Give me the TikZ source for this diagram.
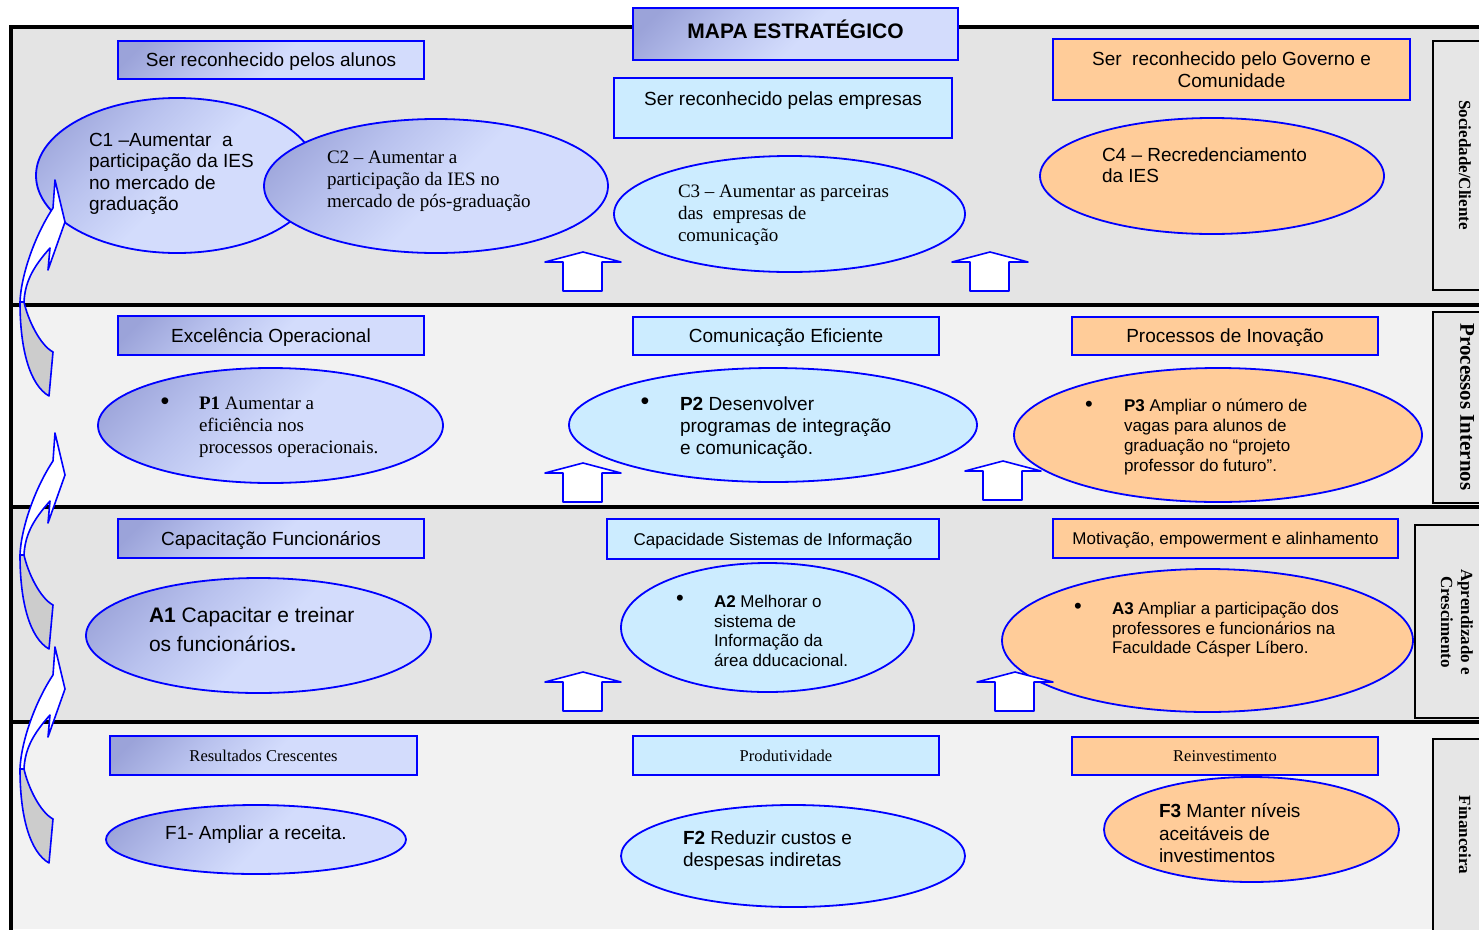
\documentclass[tikz,border=0pt]{standalone}
\usepackage{fontspec}
\setmainfont{Liberation Sans}
\newfontfamily\tnr{Liberation Serif}
\usetikzlibrary{shapes.geometric}

\definecolor{lavD}{HTML}{9BA3D9}
\definecolor{lavM}{HTML}{B9C2EE}
\definecolor{lavL}{HTML}{D3DCFC}
\definecolor{skyfill}{HTML}{CCECFF}
\definecolor{peach}{HTML}{FFCC99}
\definecolor{bandA}{HTML}{E4E4E4}
\definecolor{bandB}{HTML}{F2F2F2}
\definecolor{sidefill}{HTML}{E6E6E6}
\definecolor{edgeblue}{HTML}{0000FF}
\definecolor{foldgray}{HTML}{CCCCCC}

% diagonal lavender gradient, darkest towards the upper left
\pgfdeclareverticalshading{lavshade}{100bp}{color(0bp)=(lavL); color(48bp)=(lavL); color(64bp)=(lavM); color(80bp)=(lavD); color(100bp)=(lavD)}

\tikzset{
  every node/.style={inner sep=0pt, outer sep=0pt},
  lav/.style={shade, shading=lavshade, shading angle=45},
  sky/.style={fill=skyfill},
  pch/.style={fill=peach},
  tag/.style={rectangle, draw=edgeblue, line width=1.8pt},
  goal/.style={ellipse, draw=edgeblue, line width=1.8pt},
  sans19/.style={font=\fontsize{19}{21.5}\selectfont, text height=13.7pt, text depth=0pt},
  sans17/.style={font=\fontsize{17}{19.5}\selectfont, text height=12.2pt, text depth=0pt},
  serif16/.style={font=\tnr\fontsize{16.5}{19}\selectfont, text height=11.2pt, text depth=0pt},
  txt/.style={anchor=west, align=left},
  dot/.style={font=\fontsize{25}{25}\selectfont},
  sidebox/.style={draw=black, line width=1.8pt, fill=sidefill},
  sidetxt/.style={font=\tnr\bfseries\fontsize{17}{20}\selectfont, rotate=-90, align=center},
  band line/.style={line width=4pt, black},
  upblk/.pic={
    \filldraw[fill=white, draw=edgeblue, line width=1.6pt, line join=round]
      (0,0) -- (38,10) -- (19,10) -- (19,39) -- (-20,39) -- (-20,10) -- (-38,10) -- cycle;
  },
  curl/.pic={
    \filldraw[fill=foldgray, draw=edgeblue, line width=1.6pt, line join=round]
      (-35,122) .. controls (-35,170) and (-25,205) .. (-6,216) -- (-2,172)
      .. controls (-15,165) and (-27,140) .. (-31,122) -- cycle;
    \filldraw[fill=white, draw=edgeblue, line width=1.6pt, line join=round]
      (-35,122) .. controls (-34,95) and (-20,55) .. (-2,28) -- (0,0) -- (10,42)
      -- (-7,90) -- (-5,68) .. controls (-20,85) and (-30,100) .. (-31,122) -- cycle;
  }
}

\begin{document}
\begin{tikzpicture}[x=1pt, y=-1pt]
\useasboundingbox (0,0) rectangle (1479,929);
\begin{scope}
\clip (0,0) rectangle (1479,929);

% perspective bands
\fill[bandA] (11,27) rectangle (1479,305);
\fill[bandB] (11,305) rectangle (1479,507);
\fill[bandA] (11,507) rectangle (1479,722);
\fill[bandB] (11,722) rectangle (1479,929);
\draw[band line] (11,935) -- (11,27) -- (1485,27);
\draw[band line] (11,305) -- (1485,305);
\draw[band line] (11,507) -- (1485,507);
\draw[band line] (11,722) -- (1485,722);

% perspective names on the right
\draw[sidebox] (1433,41) rectangle (1500,290);
\draw[sidebox] (1433,312) rectangle (1500,503);
\draw[sidebox] (1415,525) rectangle (1500,718);
\draw[sidebox] (1433,739) rectangle (1500,940);
\node[sidetxt] (psoc) at (1465,165) {Sociedade/Cliente};
\node[sidetxt, font=\tnr\bfseries\fontsize{21}{24}\selectfont] (pint) at (1467,407) {Processos Internos};
\node[sidetxt] (papr) at (1457,622) {Aprendizado e\\Crescimento};
\node[sidetxt] (pfin) at (1465,835) {Financeira};

% theme labels
\node[tag, lav, sans19, minimum width=306, minimum height=38] (b1) at (271,60) {Ser reconhecido pelos alunos};
\node[tag, lav, sans19, minimum width=306, minimum height=39] (b2) at (271,335.5) {Excelência Operacional};
\node[tag, lav, sans19, minimum width=306, minimum height=39] (b3) at (271,538.5) {Capacitação Funcionários};
\node[tag, lav, serif16, minimum width=307, minimum height=39] (b4) at (263.5,755.5) {Resultados Crescentes};

\node[tag, sky, sans19, text depth=18pt, minimum width=338, minimum height=60] (m1) at (783,108) {Ser reconhecido pelas empresas};
\node[tag, sky, sans19, minimum width=306, minimum height=38] (m2) at (786,336) {Comunicação Eficiente};
\node[tag, sky, sans17, minimum width=332, minimum height=40] (m3) at (773,539) {Capacidade Sistemas de Informação};
\node[tag, sky, serif16, minimum width=306, minimum height=39] (m4) at (786,755.5) {Produtividade};

\node[tag, pch, font=\fontsize{19}{22}\selectfont, align=center, minimum width=357, minimum height=61] (r1) at (1231.5,69.5) {Ser~~reconhecido pelo Governo e\\Comunidade};
\node[tag, pch, sans19, minimum width=306, minimum height=38] (r2) at (1225,336) {Processos de Inovação};
\node[tag, pch, sans17, minimum width=345, minimum height=39] (r3) at (1225.5,538.5) {Motivação, empowerment e alinhamento};
\node[tag, pch, serif16, minimum width=306, minimum height=38] (r4) at (1225,756) {Reinvestimento};

% objectives
\node[goal, lav, minimum width=282, minimum height=155] (c1) at (177,175.5) {};
\node[goal, lav, minimum width=344, minimum height=134] (c2) at (436,186) {};
\node[goal, sky, minimum width=351, minimum height=116] (c3) at (789.5,214) {};
\node[goal, pch, minimum width=344, minimum height=116] (c4) at (1212,176) {};
\node[goal, lav, minimum width=345, minimum height=115] (p1) at (270.5,425.5) {};
\node[goal, sky, minimum width=408, minimum height=114] (p2) at (773,425) {};
\node[goal, pch, minimum width=408, minimum height=134] (p3) at (1218,435) {};
\node[goal, lav, minimum width=345, minimum height=115] (a1) at (258.5,635.5) {};
\node[goal, sky, minimum width=293, minimum height=129] (a2) at (767.5,627.5) {};
\node[goal, pch, minimum width=411, minimum height=143] (a3) at (1207.5,640.5) {};
\node[goal, lav, minimum width=300, minimum height=69] (f1) at (256,839.5) {};
\node[goal, sky, minimum width=344, minimum height=102] (f2) at (793,856) {};
\node[goal, pch, minimum width=295, minimum height=105] (f3) at (1251.5,829.5) {};

% objective texts
\node[txt, font=\fontsize{19}{21.4}\selectfont] (c1t) at (89,174) {C1 –Aumentar~~a\\participação da IES\\no mercado de\\graduação};
\node[txt, font=\tnr\fontsize{19}{22}\selectfont] (c2t) at (327,181) {C2 – Aumentar a\\participação da IES no\\mercado de pós-graduação};
\node[txt, font=\tnr\fontsize{19}{22}\selectfont] (c3t) at (678,215) {C3 – Aumentar as parceiras\\das~~empresas de\\comunicação};
\node[txt, font=\fontsize{19}{21}\selectfont] (c4t) at (1102,165.5) {C4 – Recredenciamento\\da IES};

\node[dot] (p1b) at (165,404) {•};
\node[txt, font=\tnr\fontsize{19}{22}\selectfont] (p1t) at (199,427) {\textbf{P1} Aumentar a\\eficiência nos\\processos operacionais.};
\node[dot] (p2b) at (645,404) {•};
\node[txt, font=\fontsize{19}{22.3}\selectfont] (p2t) at (680,427.5) {\textbf{P2} Desenvolver\\programas de integração\\e comunicação.};
\node[dot, font=\fontsize{22}{22}\selectfont] (p3b) at (1089,406) {•};
\node[txt, font=\fontsize{17}{19.7}\selectfont] (p3t) at (1124,437) {\textbf{P3} Ampliar o número de\\vagas para alunos de\\graduação no “projeto\\professor do futuro”.};

\node[txt, font=\fontsize{21}{28.4}\selectfont] (a1t) at (149,629.5) {\textbf{A1} Capacitar e treinar\\os funcionários\textbf{.}};
\node[dot, font=\fontsize{22}{22}\selectfont] (a2b) at (680,600) {•};
\node[txt, font=\fontsize{17}{19.4}\selectfont] (a2t) at (714,631) {\textbf{A2} Melhorar o\\sistema de\\Informação da\\área dducacional.};
\node[dot, font=\fontsize{22}{22}\selectfont] (a3b) at (1078,608) {•};
\node[txt, font=\fontsize{17}{19.5}\selectfont] (a3t) at (1112,630) {\textbf{A3} Ampliar a participação dos\\professores e funcionários na\\Faculdade Cásper Líbero.};

\node[sans19] (f1t) at (256,833) {F1- Ampliar a receita.};
\node[txt, font=\fontsize{19}{21.5}\selectfont] (f2t) at (683,850.5) {\textbf{F2} Reduzir custos e\\despesas indiretas};
\node[txt, font=\fontsize{19}{22.5}\selectfont] (f3t) at (1159,833.5) {\textbf{F3} Manter níveis\\aceitáveis de\\investimentos};

% upward block arrows between perspectives
\pic at (583,252) {upblk};
\pic at (990,252) {upblk};
\pic at (583,463) {upblk};
\pic at (1003,461) {upblk};
\pic at (583,672) {upblk};
\pic at (1015,672) {upblk};

% curved arrows along the left edge
\pic at (55,180) {curl};
\pic at (55,433) {curl};
\pic at (55,647) {curl};

% title
\node[tag, lav, font=\bfseries\fontsize{21}{24}\selectfont, text height=15.1pt, text depth=7pt, minimum width=325, minimum height=52] (title) at (795.5,34) {MAPA ESTRATÉGICO};
\end{scope}
\end{tikzpicture}
\end{document}
